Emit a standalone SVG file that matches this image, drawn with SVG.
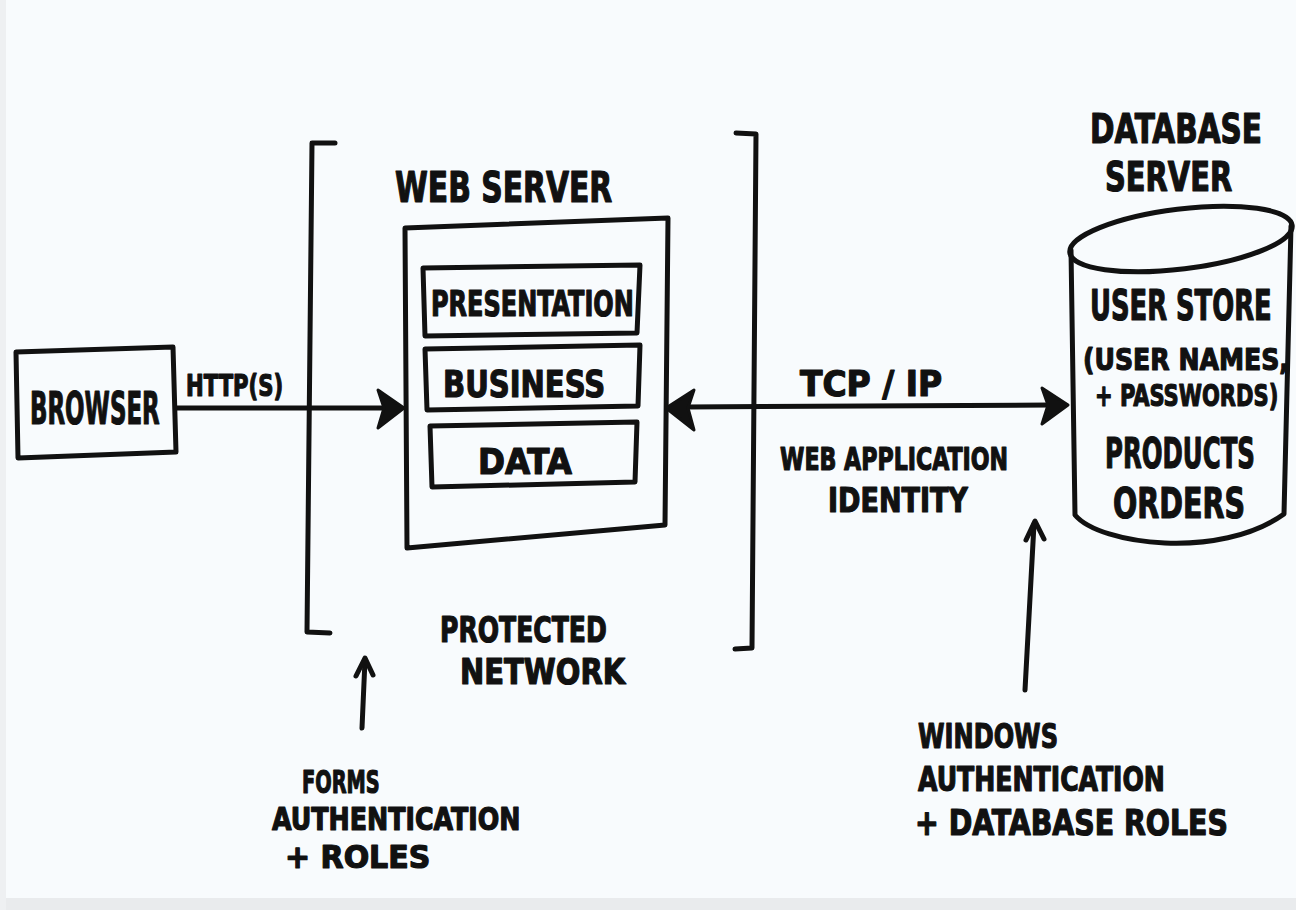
<svg xmlns="http://www.w3.org/2000/svg" width="1296" height="910" viewBox="0 0 1296 910">
  <style>
    .ink { fill: none; stroke: #111; stroke-width: 5; stroke-linecap: round; stroke-linejoin: round; }
    .head { fill: #111; stroke: #111; stroke-width: 3; stroke-linejoin: round; }
    .lbl { font-family: "DejaVu Sans Condensed", "Liberation Sans", sans-serif; font-weight: 700; fill: #111; stroke: #111; stroke-width: 1.2; stroke-linejoin: round; }
  </style>

  <!-- paper -->
  <rect x="0" y="0" width="1296" height="910" fill="#f8fbfd"/>
  <rect x="0" y="898" width="1296" height="12" fill="#e9ebed"/>
  <rect x="0" y="0" width="6" height="910" fill="#eef0f2"/>

  <!-- connectors -->
  <g id="connectors">
    <!-- browser to web server -->
    <path class="ink" d="M176,408 L386,408"/>
    <path class="head" d="M404,408 L378,390 L384,408 L378,428 Z"/>
    <!-- web server to database, both ways -->
    <path class="ink" d="M686,407 L1050,405"/>
    <path class="head" d="M666,408 L694,390 L688,408 L694,430 Z"/>
    <path class="head" d="M1068,405 L1042,388 L1048,405 L1042,424 Z"/>
    <!-- forms authentication pointer -->
    <path class="ink" d="M362,728 L365,660"/>
    <path class="ink" d="M356,676 L365,658 L373,675"/>
    <!-- windows authentication pointer -->
    <path class="ink" d="M1025,690 L1034,524"/>
    <path class="ink" d="M1026,540 L1035,521 L1044,539"/>
  </g>

  <!-- protected network brackets -->
  <g id="protected-network">
    <path class="ink" d="M335,143 L312,143 L307,632 L330,633"/>
    <path class="ink" d="M736,133 L756,134 L752,648 L735,649"/>
    <text class="lbl" transform="translate(440,642) scale(0.776,1)" font-size="36" textLength="215" lengthAdjust="spacingAndGlyphs">PROTECTED</text>
    <text class="lbl" transform="translate(460,684) scale(0.898,1)" font-size="36" textLength="184" lengthAdjust="spacingAndGlyphs">NETWORK</text>
  </g>

  <!-- browser -->
  <g id="browser">
    <path class="ink" d="M16,352 L173,347 L176,452 L18,458 Z"/>
    <text class="lbl" transform="translate(30,424) scale(0.587,1)" font-size="44" textLength="221" lengthAdjust="spacingAndGlyphs">BROWSER</text>
    <text class="lbl" transform="translate(186,396) scale(0.789,1)" font-size="30" textLength="123" lengthAdjust="spacingAndGlyphs">HTTP(S)</text>
  </g>

  <!-- web server with its three layers -->
  <g id="web-server">
    <text class="lbl" transform="translate(395,202) scale(0.793,1)" font-size="42" textLength="274" lengthAdjust="spacingAndGlyphs">WEB SERVER</text>
    <path class="ink" d="M405,228 L668,218 L665,525 L407,548 Z"/>
  </g>
  <g id="presentation">
    <path class="ink" d="M423,268 L640,265 L637,333 L425,336 Z"/>
    <text class="lbl" transform="translate(431,316) scale(0.727,1)" font-size="36" textLength="279" lengthAdjust="spacingAndGlyphs">PRESENTATION</text>
  </g>
  <g id="business">
    <path class="ink" d="M425,349 L640,345 L638,406 L427,410 Z"/>
    <text class="lbl" transform="translate(443,397) scale(0.84,1)" font-size="38" textLength="193" lengthAdjust="spacingAndGlyphs">BUSINESS</text>
  </g>
  <g id="data">
    <path class="ink" d="M430,426 L637,422 L635,482 L432,487 Z"/>
    <text class="lbl" transform="translate(478,474) scale(0.948,1)" font-size="36" textLength="99" lengthAdjust="spacingAndGlyphs">DATA</text>
  </g>

  <!-- link labels -->
  <g id="tcp-labels">
    <text class="lbl" transform="translate(800,396)" font-size="36" textLength="142" lengthAdjust="spacingAndGlyphs">TCP / IP</text>
    <text class="lbl" transform="translate(780,470) scale(0.768,1)" font-size="32" textLength="297" lengthAdjust="spacingAndGlyphs">WEB APPLICATION</text>
    <text class="lbl" transform="translate(828,512) scale(0.88,1)" font-size="34" textLength="159" lengthAdjust="spacingAndGlyphs">IDENTITY</text>
  </g>

  <!-- database server -->
  <g id="database-server">
    <text class="lbl" transform="translate(1090,143) scale(0.796,1)" font-size="40" textLength="216" lengthAdjust="spacingAndGlyphs">DATABASE</text>
    <text class="lbl" transform="translate(1105,191) scale(0.8,1)" font-size="40" textLength="159" lengthAdjust="spacingAndGlyphs">SERVER</text>
    <ellipse class="ink" cx="1181" cy="239" rx="112" ry="30" transform="rotate(-7 1181 239)"/>
    <path class="ink" d="M1071,250 L1075,515 C1100,545 1220,560 1284,514 L1291,226"/>
    <text class="lbl" transform="translate(1090,320) scale(0.683,1)" font-size="42" textLength="266" lengthAdjust="spacingAndGlyphs">USER STORE</text>
    <text class="lbl" transform="translate(1083,370) scale(0.899,1)" font-size="31" textLength="229" lengthAdjust="spacingAndGlyphs">(USER NAMES,</text>
    <text class="lbl" transform="translate(1095,406) scale(0.742,1)" font-size="31" textLength="247" lengthAdjust="spacingAndGlyphs">+ PASSWORDS)</text>
    <text class="lbl" transform="translate(1105,468) scale(0.649,1)" font-size="42" textLength="231" lengthAdjust="spacingAndGlyphs">PRODUCTS</text>
    <text class="lbl" transform="translate(1113,518) scale(0.755,1)" font-size="42" textLength="175" lengthAdjust="spacingAndGlyphs">ORDERS</text>
  </g>

  <!-- authentication notes -->
  <g id="forms-authentication">
    <text class="lbl" transform="translate(302,793) scale(0.67,1)" font-size="32" textLength="116" lengthAdjust="spacingAndGlyphs">FORMS</text>
    <text class="lbl" transform="translate(272,830) scale(0.848,1)" font-size="32" textLength="293" lengthAdjust="spacingAndGlyphs">AUTHENTICATION</text>
    <text class="lbl" transform="translate(285,868) scale(1.038,1)" font-size="32" textLength="140" lengthAdjust="spacingAndGlyphs">+ ROLES</text>
  </g>
  <g id="windows-authentication">
    <text class="lbl" transform="translate(918,748) scale(0.807,1)" font-size="34" textLength="173.5" lengthAdjust="spacingAndGlyphs">WINDOWS</text>
    <text class="lbl" transform="translate(918,791) scale(0.794,1)" font-size="34" textLength="311" lengthAdjust="spacingAndGlyphs">AUTHENTICATION</text>
    <text class="lbl" transform="translate(915,835) scale(0.862,1)" font-size="36" textLength="363" lengthAdjust="spacingAndGlyphs">+ DATABASE ROLES</text>
  </g>
</svg>
